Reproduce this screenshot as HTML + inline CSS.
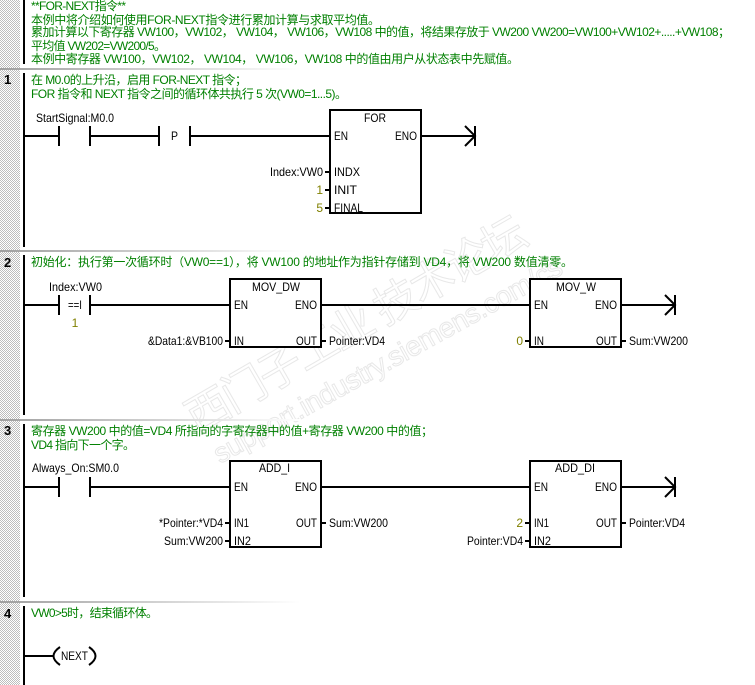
<!DOCTYPE html>
<html><head><meta charset="utf-8">
<style>
html,body{margin:0;padding:0;background:#fff;width:755px;height:685px;overflow:hidden}
svg{display:block}
text{font-family:"Liberation Sans","WenQuanYi Zen Hei","Noto Sans CJK SC",sans-serif;font-size:12px;fill:#000}
.g text,text.g{fill:#008000}
.o{fill:#808000}
.n{font-weight:bold;font-size:13px}
.w{fill:#fff;stroke:#e8e8e8;stroke-width:1;font-weight:normal}
.box{fill:#fff;stroke:#000;stroke-width:2}
.l line,.l path{stroke:#000;stroke-width:2;fill:none}
</style></head><body>
<svg width="755" height="685" viewBox="0 0 755 685" xmlns="http://www.w3.org/2000/svg">
<defs>
<pattern id="chk" width="2" height="2" patternUnits="userSpaceOnUse"><rect width="2" height="2" fill="#fff"/><rect width="1" height="1" fill="#bdbdbd"/><rect x="1" y="1" width="1" height="1" fill="#bdbdbd"/></pattern>
<linearGradient id="sep" x1="0" x2="1" y1="0" y2="0"><stop offset="0" stop-color="#a0a0a0"/><stop offset="1" stop-color="#fff"/></linearGradient>
</defs>
<rect x="0" y="0" width="20" height="685" fill="url(#chk)"/>

<!-- watermark -->
<text class="w" transform="translate(197 434) rotate(-30)" style="font-size:44px" textLength="385" lengthAdjust="spacing">西门子工业 技术论坛</text>
<text class="w" transform="translate(220 464) rotate(-29)" style="font-size:28px" textLength="394" lengthAdjust="spacing">support.industry.siemens.com/cs</text>

<!-- separators -->
<rect x="0" y="68" width="300" height="2" fill="url(#sep)"/>
<rect x="0" y="250" width="300" height="2" fill="url(#sep)"/>
<rect x="0" y="419" width="300" height="2" fill="url(#sep)"/>
<rect x="0" y="601" width="300" height="2" fill="url(#sep)"/>

<!-- vertical rails -->
<rect x="23" y="0" width="2" height="64" fill="#000"/>
<rect x="23" y="73" width="2" height="174" fill="#000"/>
<rect x="23" y="255" width="2" height="160" fill="#000"/>
<rect x="23" y="424" width="2" height="173" fill="#000"/>
<rect x="23" y="606" width="2" height="79" fill="#000"/>

<!-- network numbers -->
<text class="n" x="4" y="84">1</text>
<text class="n" x="4" y="267">2</text>
<text class="n" x="4" y="435">3</text>
<text class="n" x="4" y="618">4</text>

<!-- comments -->
<g class="g">
<text x="31" y="10" textLength="95">**FOR-NEXT指令**</text>
<text x="31" y="24" textLength="349">本例中将介绍如何使用FOR-NEXT指令进行累加计算与求取平均值。</text>
<text x="31" y="36" textLength="699">累加计算以下寄存器 VW100，VW102， VW104， VW106，VW108 中的值，将结果存放于 VW200 VW200=VW100+VW102+.....+VW108；</text>
<text x="31" y="50" textLength="135">平均值 VW202=VW200/5。</text>
<text x="31" y="63" textLength="488">本例中寄存器 VW100，VW102， VW104， VW106，VW108 中的值由用户从状态表中先赋值。</text>
<text x="31" y="84" textLength="216">在 M0.0的上升沿，启用 FOR-NEXT 指令；</text>
<text x="31" y="98" textLength="316">FOR 指令和 NEXT 指令之间的循环体共执行 5 次(VW0=1...5)。</text>
<text x="31" y="266" textLength="542">初始化：执行第一次循环时（VW0==1），将 VW100 的地址作为指针存储到 VD4，将 VW200 数值清零。</text>
<text x="31" y="435" textLength="402">寄存器 VW200 中的值=VD4 所指向的字寄存器中的值+寄存器 VW200 中的值；</text>
<text x="31" y="449" textLength="104">VD4 指向下一个字。</text>
<text x="31" y="617" textLength="127">VW0&gt;5时，结束循环体。</text>
</g>

<g class="l" shape-rendering="crispEdges">
<!-- rung 1 -->
<line x1="25" y1="136" x2="59" y2="136"/>
<line x1="59" y1="126" x2="59" y2="146"/>
<line x1="90" y1="126" x2="90" y2="146"/>
<line x1="90" y1="136" x2="159" y2="136"/>
<line x1="159" y1="126" x2="159" y2="146"/>
<line x1="190" y1="126" x2="190" y2="146"/>
<line x1="190" y1="136" x2="330" y2="136"/>
<line x1="421" y1="136" x2="475" y2="136"/>
<line x1="475" y1="126" x2="475" y2="146"/>
<line x1="325" y1="172" x2="330" y2="172"/>
<line x1="325" y1="190" x2="330" y2="190"/>
<line x1="325" y1="208" x2="330" y2="208"/>
<!-- rung 2 -->
<line x1="25" y1="305" x2="59" y2="305"/>
<line x1="59" y1="295" x2="59" y2="315"/>
<line x1="90" y1="295" x2="90" y2="315"/>
<line x1="90" y1="305" x2="230" y2="305"/>
<line x1="321" y1="305" x2="530" y2="305"/>
<line x1="621" y1="305" x2="675" y2="305"/>
<line x1="675" y1="295" x2="675" y2="315"/>
<line x1="225" y1="341" x2="230" y2="341"/>
<line x1="321" y1="341" x2="326" y2="341"/>
<line x1="525" y1="341" x2="530" y2="341"/>
<line x1="621" y1="341" x2="626" y2="341"/>
<!-- rung 3 -->
<line x1="25" y1="487" x2="59" y2="487"/>
<line x1="59" y1="477" x2="59" y2="497"/>
<line x1="90" y1="477" x2="90" y2="497"/>
<line x1="90" y1="487" x2="230" y2="487"/>
<line x1="321" y1="487" x2="530" y2="487"/>
<line x1="621" y1="487" x2="675" y2="487"/>
<line x1="675" y1="477" x2="675" y2="497"/>
<line x1="225" y1="523" x2="230" y2="523"/>
<line x1="225" y1="541" x2="230" y2="541"/>
<line x1="321" y1="523" x2="326" y2="523"/>
<line x1="525" y1="523" x2="530" y2="523"/>
<line x1="525" y1="541" x2="530" y2="541"/>
<line x1="621" y1="523" x2="626" y2="523"/>
<!-- rung 4 -->
<line x1="25" y1="656" x2="53" y2="656"/>
</g>
<g class="l">
<path d="M465 126L475 136L465 146"/>
<path d="M665 295L675 305L665 315"/>
<path d="M665 477L675 487L665 497"/>
<path d="M60 647Q47 656 60 665"/>
<path d="M89 647Q102 656 89 665"/>
</g>

<!-- boxes -->
<g shape-rendering="crispEdges">
<rect class="box" x="330" y="110" width="91" height="103"/>
<rect class="box" x="230" y="279" width="91" height="68"/>
<rect class="box" x="530" y="279" width="91" height="68"/>
<rect class="box" x="230" y="461" width="91" height="86"/>
<rect class="box" x="530" y="461" width="91" height="86"/>
</g>

<!-- rung 1 text -->
<text x="36" y="122" textLength="78" lengthAdjust="spacingAndGlyphs">StartSignal:M0.0</text>
<text x="171" y="140" textLength="7" lengthAdjust="spacingAndGlyphs">P</text>
<text x="364" y="122" textLength="22" lengthAdjust="spacingAndGlyphs">FOR</text>
<text x="334" y="140" textLength="14" lengthAdjust="spacingAndGlyphs">EN</text>
<text x="395" y="140" textLength="22" lengthAdjust="spacingAndGlyphs">ENO</text>
<text x="334" y="176" textLength="26" lengthAdjust="spacingAndGlyphs">INDX</text>
<text x="334" y="194" textLength="23" lengthAdjust="spacingAndGlyphs">INIT</text>
<text x="334" y="212" textLength="29" lengthAdjust="spacingAndGlyphs">FINAL</text>
<text x="270" y="176" textLength="53" lengthAdjust="spacingAndGlyphs">Index:VW0</text>
<text class="o" x="323" y="194" text-anchor="end">1</text>
<text class="o" x="323" y="212" text-anchor="end">5</text>

<!-- rung 2 text -->
<text x="49" y="291" textLength="53" lengthAdjust="spacingAndGlyphs">Index:VW0</text>
<text x="68" y="309" textLength="14" lengthAdjust="spacingAndGlyphs">==I</text>
<text class="o" x="75" y="327" text-anchor="middle">1</text>
<text x="252" y="291" textLength="48" lengthAdjust="spacingAndGlyphs">MOV_DW</text>
<text x="234" y="309" textLength="14" lengthAdjust="spacingAndGlyphs">EN</text>
<text x="295" y="309" textLength="22" lengthAdjust="spacingAndGlyphs">ENO</text>
<text x="234" y="345" textLength="10" lengthAdjust="spacingAndGlyphs">IN</text>
<text x="296" y="345" textLength="21" lengthAdjust="spacingAndGlyphs">OUT</text>
<text x="148" y="345" textLength="75" lengthAdjust="spacingAndGlyphs">&amp;Data1:&amp;VB100</text>
<text x="329" y="345" textLength="56" lengthAdjust="spacingAndGlyphs">Pointer:VD4</text>
<text x="556" y="291" textLength="40" lengthAdjust="spacingAndGlyphs">MOV_W</text>
<text x="534" y="309" textLength="14" lengthAdjust="spacingAndGlyphs">EN</text>
<text x="595" y="309" textLength="22" lengthAdjust="spacingAndGlyphs">ENO</text>
<text x="534" y="345" textLength="10" lengthAdjust="spacingAndGlyphs">IN</text>
<text x="596" y="345" textLength="21" lengthAdjust="spacingAndGlyphs">OUT</text>
<text class="o" x="523" y="345" text-anchor="end">0</text>
<text x="629" y="345" textLength="59" lengthAdjust="spacingAndGlyphs">Sum:VW200</text>

<!-- rung 3 text -->
<text x="32" y="472" textLength="87" lengthAdjust="spacingAndGlyphs">Always_On:SM0.0</text>
<text x="259" y="472" textLength="31" lengthAdjust="spacingAndGlyphs">ADD_I</text>
<text x="234" y="491" textLength="14" lengthAdjust="spacingAndGlyphs">EN</text>
<text x="295" y="491" textLength="22" lengthAdjust="spacingAndGlyphs">ENO</text>
<text x="234" y="527" textLength="15" lengthAdjust="spacingAndGlyphs">IN1</text>
<text x="234" y="545" textLength="17" lengthAdjust="spacingAndGlyphs">IN2</text>
<text x="296" y="527" textLength="21" lengthAdjust="spacingAndGlyphs">OUT</text>
<text x="159" y="527" textLength="64" lengthAdjust="spacingAndGlyphs">*Pointer:*VD4</text>
<text x="164" y="545" textLength="59" lengthAdjust="spacingAndGlyphs">Sum:VW200</text>
<text x="329" y="527" textLength="59" lengthAdjust="spacingAndGlyphs">Sum:VW200</text>
<text x="555" y="472" textLength="40" lengthAdjust="spacingAndGlyphs">ADD_DI</text>
<text x="534" y="491" textLength="14" lengthAdjust="spacingAndGlyphs">EN</text>
<text x="595" y="491" textLength="22" lengthAdjust="spacingAndGlyphs">ENO</text>
<text x="534" y="527" textLength="15" lengthAdjust="spacingAndGlyphs">IN1</text>
<text x="534" y="545" textLength="17" lengthAdjust="spacingAndGlyphs">IN2</text>
<text x="596" y="527" textLength="21" lengthAdjust="spacingAndGlyphs">OUT</text>
<text class="o" x="523" y="527" text-anchor="end">2</text>
<text x="467" y="545" textLength="56" lengthAdjust="spacingAndGlyphs">Pointer:VD4</text>
<text x="629" y="527" textLength="56" lengthAdjust="spacingAndGlyphs">Pointer:VD4</text>

<!-- rung 4 text -->
<text x="61" y="660" textLength="27" lengthAdjust="spacingAndGlyphs">NEXT</text>
</svg>
</body></html>
